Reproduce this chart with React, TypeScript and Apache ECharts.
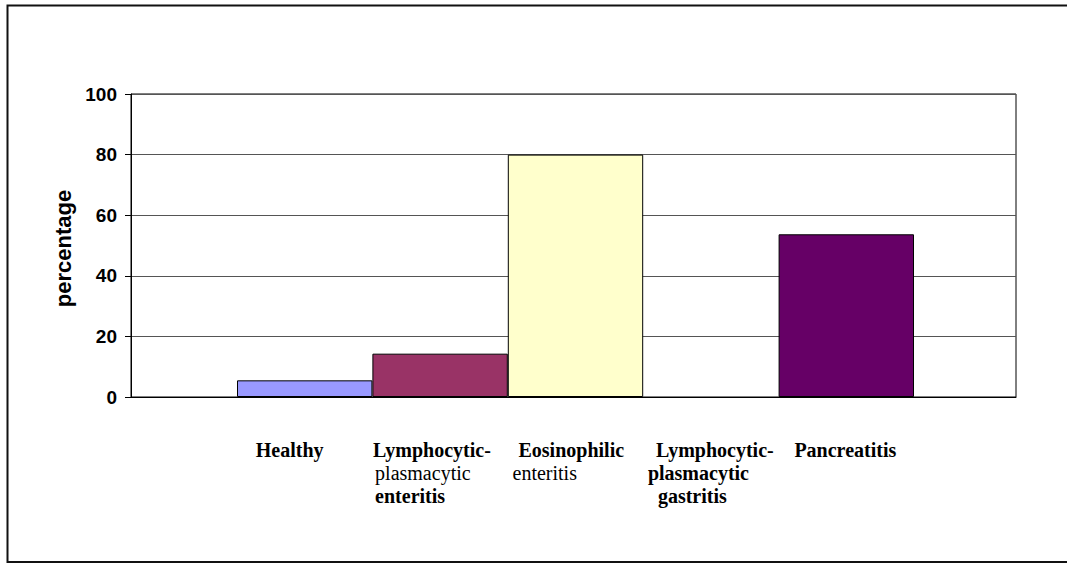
import React, { useEffect, useRef } from "react";
import * as echarts from "echarts";

const categories = [
  "Healthy",
  "Lymphocytic-plasmacytic enteritis",
  "Eosinophilic enteritis",
  "Lymphocytic-plasmacytic gastritis",
  "Pancreatitis",
];
const values = [5.5, 14.3, 80, 0, 53.7];
const barColors = ["#9999FF", "#993366", "#FFFFCC", "#FFFFFF", "#660066"];
const labelLines: Record<string, string> = {
  "Healthy": "{h|Healthy}",
  "Lymphocytic-plasmacytic enteritis": "{l1|Lymphocytic-}\n{l2|plasmacytic}\n{l3|enteritis}",
  "Eosinophilic enteritis": "{e1|Eosinophilic}\n{e2|enteritis}",
  "Lymphocytic-plasmacytic gastritis": "{g1|Lymphocytic-}\n{g2|plasmacytic}\n{g3|gastritis}",
  "Pancreatitis": "{p|Pancreatitis}",
};
const yTicks = { min: 0, max: 100, interval: 20 };
const yName = "percentage";

export default function App() {
  const ref = useRef<HTMLDivElement>(null);
  useEffect(() => {
    if (!ref.current) return;
    const chart = echarts.init(ref.current, null, { renderer: "svg" });
    const top = 94;
    const bottom = 565 - 397;
    const B = { fontFamily: "Liberation Serif", fontWeight: "bold", fontSize: 20, color: "#000", lineHeight: 23 };
    const N = { ...B, fontWeight: "normal" };
    chart.setOption({
      animation: false,
      backgroundColor: "#ffffff",
      graphic: [
        {
          type: "rect",
          shape: { x: 7.5, y: 5.5, width: 1100, height: 556.5 },
          style: { fill: "none", stroke: "#111", lineWidth: 2 },
          silent: true,
        },
      ],
      grid: [
        { left: 131, right: 1067 - 1016, top, bottom, show: true, borderColor: "#000", borderWidth: 1, backgroundColor: "transparent" },
        { left: 237, right: 1067 - 914, top, bottom },
      ],
      xAxis: [
        {
          type: "category",
          gridIndex: 0,
          data: [""],
          axisLine: { show: true, lineStyle: { color: "#000", width: 1 } },
          axisTick: { show: false },
          axisLabel: { show: false },
        },
        {
          type: "category",
          gridIndex: 1,
          data: categories,
          axisLine: { show: false },
          axisTick: { show: false },
          axisLabel: {
            interval: 0,
            margin: 41,
            formatter: (v: string) => labelLines[v] ?? v,
            rich: {
              h: { ...B, padding: [0, 30, 0, 0] },
              l1: { ...B, width: 134, align: "left" },
              l2: { ...N, width: 132, align: "left", padding: [0, 0, 0, 2] },
              l3: { ...B, width: 132, align: "left", padding: [0, 0, 0, 2] },
              e1: { ...B, width: 120, align: "left", padding: [0, 0, 0, 6] },
              e2: { ...N, width: 126, align: "left" },
              g1: { ...B, width: 118, align: "left", padding: [0, 0, 0, 8] },
              g2: { ...B, width: 126, align: "left" },
              g3: { ...B, width: 116, align: "left", padding: [0, 0, 0, 10] },
              p: { ...B, padding: [0, 2, 0, 0] },
            },
          },
        },
      ],
      yAxis: [
        {
          type: "value",
          gridIndex: 0,
          min: yTicks.min,
          max: yTicks.max,
          interval: yTicks.interval,
          name: yName,
          nameLocation: "middle",
          nameGap: 55,
          nameTextStyle: { fontFamily: "Liberation Sans", fontWeight: "bold", fontSize: 22, color: "#000", padding: [0, 6, 0, 0] },
          axisLine: { show: true, lineStyle: { color: "#000", width: 1 } },
          axisTick: { show: true, length: 6, lineStyle: { color: "#000" } },
          axisLabel: { margin: 14, fontFamily: "Liberation Sans", fontWeight: "bold", fontSize: 19, color: "#000" },
          splitLine: { show: true, lineStyle: { color: "#555", width: 1 } },
        },
        {
          type: "value",
          gridIndex: 1,
          min: yTicks.min,
          max: yTicks.max,
          interval: yTicks.interval,
          show: false,
          splitLine: { show: false },
        },
      ],
      series: [
        {
          type: "bar",
          xAxisIndex: 1,
          yAxisIndex: 1,
          barCategoryGap: "0%",
          data: values.map((v, i) => ({
            value: v,
            itemStyle: { color: barColors[i], borderColor: v === 0 ? "transparent" : "#000", borderWidth: 1 },
          })),
        },
      ],
    });
    return () => chart.dispose();
  }, []);
  return <div ref={ref} style={{ position: "fixed", left: 0, top: 0, width: 1067, height: 565 }} />;
}
